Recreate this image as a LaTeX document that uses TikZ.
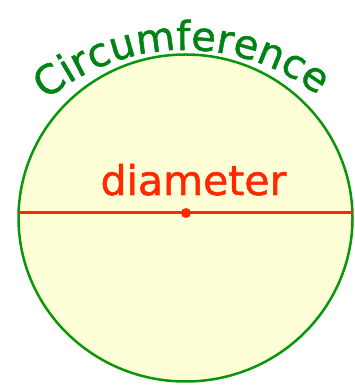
\documentclass[tikz,border=0pt]{standalone}
\usepackage{fontspec}
\setmainfont{DejaVu Sans}
\newfontfamily\roundfont[FakeBold=1.3]{DejaVu Sans}
\usetikzlibrary{decorations.text}

\definecolor{rimgreen}{RGB}{10,150,10}
\definecolor{wordgreen}{RGB}{0,130,20}
\definecolor{diamred}{RGB}{255,40,0}
\definecolor{paleyellow}{RGB}{255,255,215}

\tikzset{
  rim/.style={draw=rimgreen,line width=2.5pt,fill=paleyellow},
  diamline/.style={draw=diamred,line width=3pt},
  label/.style={text=diamred,font=\roundfont\fontsize{41}{43}\selectfont}
}

\begin{document}
\begin{tikzpicture}[x=1pt,y=1pt]
\useasboundingbox (0,0) rectangle (354,387);

\draw[rim] (185.5,169) ellipse (167 and 163.5);

\coordinate (left) at (18.5,174);
\coordinate (right) at (352.5,174);
\draw[diamline] (left) -- (right);
\node[circle,fill=diamred,inner sep=0pt,minimum size=10pt] (centre) at (186,174) {};

\node[label,anchor=base] (diam) at (193.5,192) {diameter};

\path[decorate,decoration={text along path,text align=center,
  text={|\roundfont\fontsize{40}{42}\selectfont\color{wordgreen}|Circumference}}]
  (185,120) ++(132:217) arc[start angle=132,end angle=50,radius=217];
\end{tikzpicture}
\end{document}
